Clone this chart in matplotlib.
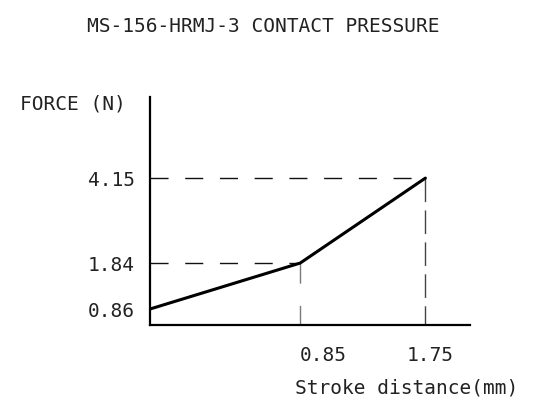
import numpy as np
from matplotlib import pyplot as plt
from matplotlib import transforms

# Data
stroke = [0.0, 0.85, 1.75]          # mm
force = [0.86, 1.84, 4.15]          # N
x_ticks = [0.85, 1.75]
x_labels = ["0.85", "1.75"]
y_ticks = [0.86, 1.84, 4.15]
y_labels = ["0.86", "1.84", "4.15"]

title = "MS-156-HRMJ-3 CONTACT PRESSURE"
xlabel = "Stroke distance(mm)"
ylabel = "FORCE (N)"

# The drawing is a schematic, not to scale: piecewise scale anchors
x_anchor = [-1.0, 0.0, 0.85, 1.75, 3.0]
x_pos = [-176.0, 0.0, 150.0, 275.0, 449.0]
y_anchor = [-1.0, 0.52, 0.86, 1.84, 4.15, 8.0]
y_pos = [-71.0, 0.0, 16.0, 62.0, 147.0, 289.0]

# guide line styles (points), one per break point
h_dash = [(0, (13, 12)), (0, (13, 12))]
v_dash = [(0, (14.5, 16)), (0, (17, 6))]
v_col = ['#7a7a7a', '#444444']

plt.rcParams['font.family'] = ['DejaVu Sans Mono']
plt.rcParams['lines.scale_dashes'] = False
txt_col = '#222222'
fs = 14

W, H = 541, 417
fig = plt.figure(figsize=(W / 100, H / 100), dpi=100)
ax = fig.add_axes([150 / W, (H - 325) / H, (470 - 150) / W, (325 - 97) / H])

ax.set_xscale('function', functions=(lambda v: np.interp(v, x_anchor, x_pos),
                                     lambda p: np.interp(p, x_pos, x_anchor)))
ax.set_yscale('function', functions=(lambda v: np.interp(v, y_anchor, y_pos),
                                     lambda p: np.interp(p, y_pos, y_anchor)))
ax.set_xlim(0, 2.07)
ax.set_ylim(0.52, 6.35)

for i, (x, y) in enumerate(zip(stroke[1:], force[1:])):
    ax.plot([0, x], [y, y], color='#111111', lw=1.0, linestyle=h_dash[i])
    ax.plot([x, x], [y, 0.52], color=v_col[i], lw=1.0, linestyle=v_dash[i])

ax.plot(stroke, force, color='black', lw=2.2, solid_capstyle='round')

for side in ['top', 'right']:
    ax.spines[side].set_visible(False)
for side in ['left', 'bottom']:
    ax.spines[side].set_linewidth(1.6)

ax.set_xticks(x_ticks)
ax.set_xticklabels(x_labels)
ax.set_yticks(y_ticks)
ax.set_yticklabels(y_labels)
ax.tick_params(axis='both', length=0, labelsize=fs, labelcolor=txt_col)
ax.tick_params(axis='x', pad=15)
ax.tick_params(axis='y', pad=11)
labs = ax.get_xticklabels()
labs[0].set_ha('left')
labs[1].set_transform(labs[1].get_transform() +
                      transforms.ScaledTranslation(5 / 100, 0, fig.dpi_scale_trans))

fig.text(263 / W, 1 - 27 / H, title, ha='center', va='center', fontsize=fs, color=txt_col)
fig.text(20 / W, 1 - 104 / H, ylabel, ha='left', va='center', fontsize=fs, color=txt_col)
fig.text(407 / W, 1 - 388 / H, xlabel, ha='center', va='center', fontsize=fs, color=txt_col)

fig.savefig('out.png', dpi=100, facecolor='white')
